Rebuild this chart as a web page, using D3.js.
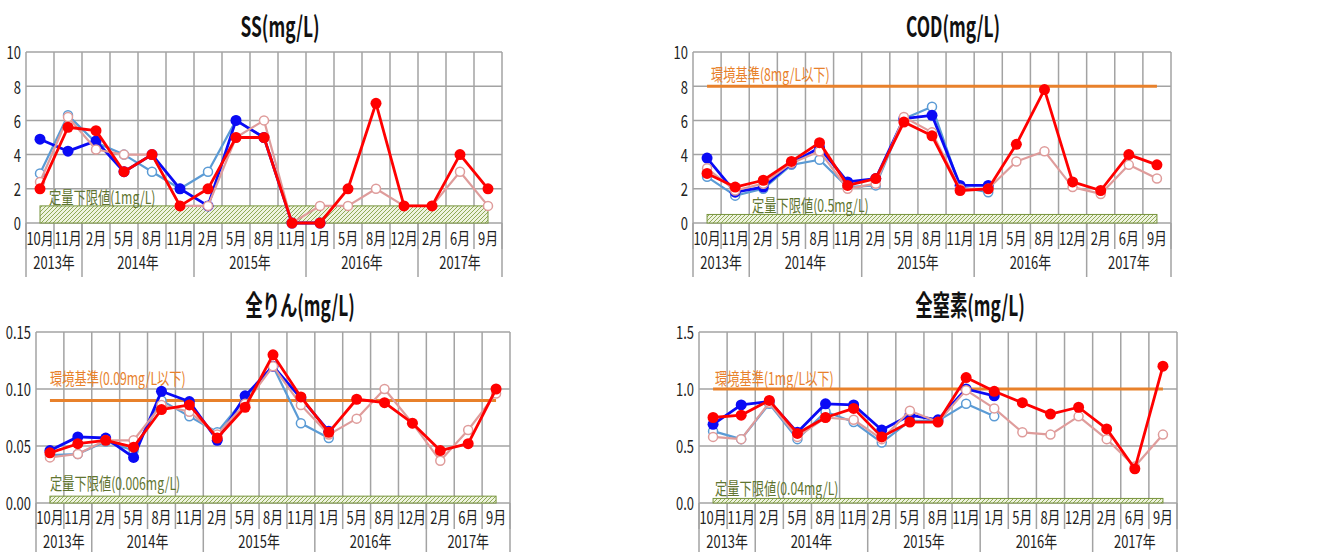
<!DOCTYPE html>
<html>
<head>
<meta charset="utf-8">
<script src="https://cdn.jsdelivr.net/npm/d3@7/dist/d3.min.js"></script>
<style>
  body { margin: 0; background: #fff; }
  svg { display: block; }
</style>
</head>
<body>
<div id="chart"></div>
<script>
// x axis categories
const months = ["10月", "11月", "2月", "5月", "8月", "11月", "2月", "5月", "8月", "11月", "1月", "5月", "8月", "12月", "2月", "6月", "9月"];
const years = ["2013年", "2014年", "2015年", "2016年", "2017年"];
const yearSpans = [2, 4, 4, 4, 3];

// SS
const ssLightBlue = [2.9, 6.3, 4.7, 4.0, 3.0, 2.0, 3.0, 6.0, 5.0, 0, 0];
const ssBlue = [4.9, 4.2, 4.8, 3.0, 4.0, 2.0, 1.0, 6.0, 5.0, 0, 0];
const ssPink = [2.4, 6.2, 4.3, 4.0, 4.0, 1.0, 1.0, 5.0, 6.0, 0, 1.0, 1.0, 2.0, 1.0, 1.0, 3.0, 1.0];
const ssRed = [2.0, 5.6, 5.4, 3.0, 4.0, 1.0, 2.0, 5.0, 5.0, 0, 0, 2.0, 7.0, 1.0, 1.0, 4.0, 2.0];

// COD
const codLightBlue = [2.7, 1.6, 2.0, 3.4, 3.7, 2.1, 2.2, 6.1, 6.8, 2.1, 1.8];
const codBlue = [3.8, 1.8, 2.1, 3.5, 4.4, 2.4, 2.6, 6.1, 6.3, 2.2, 2.2];
const codPink = [3.2, 1.9, 2.3, 3.5, 4.2, 2.0, 2.3, 6.2, 5.3, 2.0, 2.0, 3.6, 4.2, 2.1, 1.7, 3.4, 2.6];
const codRed = [2.9, 2.1, 2.5, 3.6, 4.7, 2.2, 2.6, 5.9, 5.1, 1.9, 2.0, 4.6, 7.8, 2.4, 1.9, 4.0, 3.4];

// 全りん
const tpLightBlue = [0.042, 0.043, 0.054, 0.046, 0.090, 0.076, 0.062, 0.092, 0.120, 0.070, 0.057];
const tpBlue = [0.046, 0.058, 0.057, 0.040, 0.098, 0.089, 0.055, 0.094, 0.120, 0.092, 0.063];
const tpPink = [0.040, 0.043, 0.055, 0.055, 0.086, 0.080, 0.060, 0.087, 0.120, 0.086, 0.060, 0.074, 0.100, 0.070, 0.037, 0.064, 0.096];
const tpRed = [0.044, 0.052, 0.055, 0.049, 0.082, 0.086, 0.057, 0.084, 0.130, 0.093, 0.062, 0.091, 0.088, 0.070, 0.046, 0.052, 0.100];

// 全窒素
const tnLightBlue = [0.63, 0.56, 0.87, 0.56, 0.80, 0.71, 0.53, 0.72, 0.72, 0.87, 0.76];
const tnBlue = [0.69, 0.86, 0.89, 0.62, 0.87, 0.86, 0.64, 0.77, 0.73, 1.00, 0.94];
const tnPink = [0.58, 0.56, 0.88, 0.58, 0.75, 0.73, 0.56, 0.81, 0.71, 0.99, 0.83, 0.62, 0.60, 0.76, 0.56, 0.32, 0.60];
const tnRed = [0.75, 0.77, 0.90, 0.61, 0.75, 0.83, 0.58, 0.71, 0.71, 1.10, 0.98, 0.88, 0.78, 0.84, 0.65, 0.30, 1.20];

const panels = [
    { title: "SS(mg/L)", series: [ssLightBlue, ssBlue, ssPink, ssRed], yMax: 10, yStep: 2, fmt: d3.format("d"),
      standard: null, standardLabel: "", limit: 1, limitLabel: "定量下限値(1mg/L)" },
    { title: "COD(mg/L)", series: [codLightBlue, codBlue, codPink, codRed], yMax: 10, yStep: 2, fmt: d3.format("d"),
      standard: 8, standardLabel: "環境基準(8mg/L以下)", limit: 0.5, limitLabel: "定量下限値(0.5mg/L)" },
    { title: "全りん(mg/L)", series: [tpLightBlue, tpBlue, tpPink, tpRed], yMax: 0.15, yStep: 0.05, fmt: d3.format(".2f"),
      standard: 0.09, standardLabel: "環境基準(0.09mg/L以下)", limit: 0.006, limitLabel: "定量下限値(0.006mg/L)" },
    { title: "全窒素(mg/L)", series: [tnLightBlue, tnBlue, tnPink, tnRed], yMax: 1.5, yStep: 0.5, fmt: d3.format(".1f"),
      standard: 1, standardLabel: "環境基準(1mg/L以下)", limit: 0.04, limitLabel: "定量下限値(0.04mg/L)" }
];

// where each panel sits on the page
const layouts = [
    { left: 26, right: 502, top: 52, bottom: 223, titleX: 280, titleY: 25, monthDy: 14, yearDy: 38, stdX: 0, stdDy: 0, limX: 49, limDy: 9 },
    { left: 693, right: 1171, top: 52, bottom: 223, titleX: 953, titleY: 25, monthDy: 14, yearDy: 38, stdX: 711, stdDy: 13, limX: 752, limDy: 10 },
    { left: 36, right: 510, top: 332, bottom: 503, titleX: 300, titleY: 304, monthDy: 13, yearDy: 37, stdX: 50, stdDy: 23, limX: 50, limDy: 14 },
    { left: 699, right: 1177, top: 332, bottom: 503, titleX: 970, titleY: 304, monthDy: 13, yearDy: 37, stdX: 715, stdDy: 11, limX: 715, limDy: 11 }
];

const seriesStyles = [
    { color: "#5b9bd5", width: 2.2, r: 4.5, filled: false },
    { color: "#0a0af5", width: 2.8, r: 5.5, filled: true },
    { color: "#df9c9b", width: 2.2, r: 4.5, filled: false },
    { color: "#ff0000", width: 2.8, r: 5.5, filled: true }
];

const FONT = "'Noto Sans CJK JP', 'Noto Sans', sans-serif";

// text squeezed horizontally to look like the condensed original
function addText(g, x, y, str, size, sx, anchor, color, weight) {
    return g.append("text")
        .attr("transform", `translate(${x},${y}) scale(${sx},1)`)
        .attr("text-anchor", anchor)
        .attr("dominant-baseline", "central")
        .style("font-family", FONT)
        .style("font-size", size + "px")
        .style("font-weight", weight || "normal")
        .style("fill", color)
        .text(str);
}

const svg = d3.select("#chart").append("svg")
    .attr("width", 1319)
    .attr("height", 552);

// hatch for the quantification limit band
const defs = svg.append("defs");
const pat = defs.append("pattern")
    .attr("id", "hatch")
    .attr("patternUnits", "userSpaceOnUse")
    .attr("width", 4)
    .attr("height", 4);
pat.append("rect").attr("width", 4).attr("height", 4).attr("fill", "#eef3df");
pat.append("path")
    .attr("d", "M-1,1 l2,-2 M0,4 l4,-4 M3,5 l2,-2")
    .attr("stroke", "#8faa55")
    .attr("stroke-width", 1);

class WaterChart {

    constructor(svg, config, layout) {
        this.svg = svg;
        this.config = config;
        this.layout = layout;
        this.initVis();
    }

    initVis() {
        const vis = this;
        const L = vis.layout;

        vis.g = vis.svg.append("g");

        vis.x = d3.scaleBand()
            .domain(d3.range(months.length))
            .range([L.left, L.right]);

        vis.y = d3.scaleLinear()
            .domain([0, vis.config.yMax])
            .range([L.bottom, L.top]);

        vis.cx = i => vis.x(i) + vis.x.bandwidth() / 2;

        vis.updateVis();
    }

    updateVis() {
        const vis = this;
        const L = vis.layout;
        const C = vis.config;
        const grid = "#a3a3a3";
        const ticks = d3.range(0, C.yMax + C.yStep / 2, C.yStep);

        // title
        addText(vis.g, L.titleX, L.titleY, C.title, 28, 0.62, "middle", "#111", "bold");

        // horizontal grid + y labels
        vis.g.selectAll(".hgrid")
            .data(ticks)
            .enter().append("line")
            .attr("x1", L.left).attr("x2", L.right)
            .attr("y1", d => vis.y(d)).attr("y2", d => vis.y(d))
            .attr("stroke", grid).attr("stroke-width", 1.5);

        ticks.forEach(t => addText(vis.g, L.left - 5, vis.y(t), C.fmt(t), 18, 0.72, "end", "#222"));

        // vertical grid at category edges
        const edges = d3.range(months.length + 1).map(i => i < months.length ? vis.x(i) : L.right);
        vis.g.selectAll(".vgrid")
            .data(edges)
            .enter().append("line")
            .attr("x1", d => d).attr("x2", d => d)
            .attr("y1", L.top).attr("y2", L.bottom + 26)
            .attr("stroke", grid).attr("stroke-width", 1.5);

        // year boundaries run deeper
        const yearStarts = [0];
        yearSpans.forEach((s, i) => yearStarts.push(yearStarts[i] + s));
        vis.g.selectAll(".ygrid")
            .data(yearStarts)
            .enter().append("line")
            .attr("x1", d => edges[d]).attr("x2", d => edges[d])
            .attr("y1", L.bottom).attr("y2", L.bottom + 54)
            .attr("stroke", grid).attr("stroke-width", 1.5);

        // month / year labels
        months.forEach((m, i) => addText(vis.g, vis.cx(i), L.bottom + L.monthDy, m, 17, 0.76, "middle", "#222"));
        years.forEach((yr, i) => {
            const xm = (edges[yearStarts[i]] + edges[yearStarts[i + 1]]) / 2;
            addText(vis.g, xm, L.bottom + L.yearDy, yr, 17, 0.76, "middle", "#222");
        });

        const x0 = vis.cx(0);
        const x1 = vis.cx(months.length - 1);

        // quantification limit band
        vis.g.append("rect")
            .attr("x", x0)
            .attr("y", vis.y(C.limit))
            .attr("width", x1 - x0)
            .attr("height", vis.y(0) - vis.y(C.limit))
            .attr("fill", "url(#hatch)")
            .attr("stroke", "#77933c")
            .attr("stroke-width", 1);
        addText(vis.g, L.limX, vis.y(C.limit) - L.limDy, C.limitLabel, 17, 0.72, "start", "#5f7530");

        // environmental standard
        if (C.standard !== null) {
            vis.g.append("line")
                .attr("x1", x0).attr("x2", x1)
                .attr("y1", vis.y(C.standard)).attr("y2", vis.y(C.standard))
                .attr("stroke", "#e8812b").attr("stroke-width", 3);
            addText(vis.g, L.stdX, vis.y(C.standard) - L.stdDy, C.standardLabel, 17, 0.72, "start", "#e8812b");
        }

        // series
        const line = d3.line()
            .defined(d => d != null)
            .x((d, i) => vis.cx(i))
            .y(d => vis.y(d));

        C.series.forEach((values, k) => {
            const st = seriesStyles[k];
            vis.g.append("path")
                .datum(values)
                .attr("fill", "none")
                .attr("stroke", st.color)
                .attr("stroke-width", st.width)
                .attr("stroke-linejoin", "round")
                .attr("d", line);

            vis.g.selectAll(".pt" + k)
                .data(values.map((v, i) => ({ v, i })).filter(d => d.v != null))
                .enter().append("circle")
                .attr("cx", d => vis.cx(d.i))
                .attr("cy", d => vis.y(d.v))
                .attr("r", st.r)
                .attr("fill", st.filled ? st.color : "#fff")
                .attr("stroke", st.color)
                .attr("stroke-width", st.filled ? 0 : 1.5);
        });
    }
}

panels.forEach((p, i) => new WaterChart(svg, p, layouts[i]));
</script>
</body>
</html>
